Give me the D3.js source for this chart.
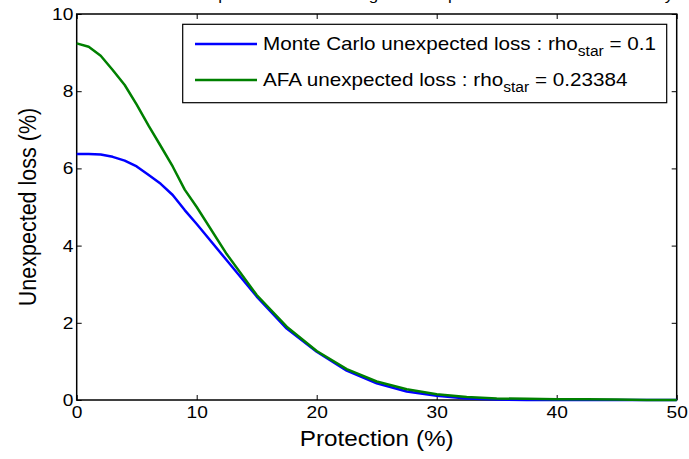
<!DOCTYPE html>
<html><head><meta charset="utf-8">
<script src="https://cdn.jsdelivr.net/npm/d3@7"></script>
<style>body{margin:0;background:#fff}svg{display:block}text{font-family:Arial,"Liberation Sans",sans-serif;fill:#000}</style>
</head><body><svg id="c" width="689" height="459"></svg>
<script>
const protection = [0,1,2,3,4,5,6,7,8,9,10,12.5,15,17.5,20,22.5,25,27.5,30,32.5,35,37.5,40,42.5,45,47.5,50];
const monteCarloUL = [6.37,6.37,6.36,6.3,6.2,6.05,5.83,5.6,5.31,4.92,4.56,3.62,2.68,1.85,1.25,0.76,0.43,0.22,0.11,0.04,0.01,0,0,0,0,0,0];
const afaUL = [9.24,9.15,8.92,8.55,8.16,7.65,7.1,6.58,6.05,5.45,5.0,3.78,2.72,1.9,1.27,0.8,0.48,0.28,0.15,0.08,0.04,0.03,0.02,0.02,0.01,0,0];
const xTicks = [0,10,20,30,40,50];
const yTicks = [0,2,4,6,8,10];
const seriesNames = ["Monte Carlo unexpected loss : rho", "AFA unexpected loss : rho"];
const seriesSub = ["star","star"];
const seriesSuffix = [" = 0.1"," = 0.23384"];
const seriesColors = ["#0000ff","#008000"];
const titleText = "Tranche loss at expiration for an average default percent of the reference entity";

const SX = 1.13; // horizontal stretch of the reference's text
const svg = d3.select("#c");
const L=76.7, R=676.7, T=14, B=400;
const x = d3.scaleLinear().domain([0,50]).range([L,R]);
const y = d3.scaleLinear().domain([0,10]).range([B,T]);

// title (clipped by top of image, as in the reference)
svg.append("text").attr("transform",`translate(${(L+R)/2},-0.5) scale(${SX},1)`).attr("text-anchor","middle")
  .style("font-size","15px").text(titleText);

const tl = 5;
svg.append("g").attr("transform",`translate(0,${B})`)
  .call(d3.axisBottom(x).tickValues(xTicks).tickSizeInner(-tl).tickSizeOuter(0).tickPadding(6))
  .call(g=>{g.select(".domain").remove();g.selectAll("text").style("font-size","17px").attr("font-family",null).attr("transform",`scale(${SX},1)`);});
svg.append("g").attr("transform",`translate(0,${T})`)
  .call(d3.axisTop(x).tickValues(xTicks).tickSizeInner(-tl).tickSizeOuter(0).tickFormat(""))
  .call(g=>g.select(".domain").remove());
svg.append("g").attr("transform",`translate(${L},0)`)
  .call(d3.axisLeft(y).tickValues(yTicks).tickSizeInner(-tl).tickSizeOuter(0).tickPadding(3))
  .call(g=>{g.select(".domain").remove();g.selectAll("text").style("font-size","17px").attr("font-family",null).attr("transform",`scale(${SX},1)`);});
svg.append("g").attr("transform",`translate(${R},0)`)
  .call(d3.axisRight(y).tickValues(yTicks).tickSizeInner(-tl).tickSizeOuter(0).tickFormat(""))
  .call(g=>g.select(".domain").remove());
svg.selectAll(".tick line").attr("stroke","#000");
svg.append("rect").attr("x",L).attr("y",T).attr("width",R-L).attr("height",B-T)
  .attr("fill","none").attr("stroke","#000").attr("stroke-width",1.5);

const line = d3.line().x((d,i)=>x(protection[i])).y(d=>y(d));
[monteCarloUL, afaUL].forEach((s,k)=>{
  svg.append("path").datum(s).attr("d",line).attr("fill","none")
    .attr("stroke",seriesColors[k]).attr("stroke-width",2.5).attr("stroke-linejoin","round");
});

svg.append("text").attr("transform",`translate(${(L+R)/2},446) scale(${SX},1)`).attr("text-anchor","middle")
  .style("font-size","21.5px").text("Protection (%)");
svg.append("text").attr("transform",`translate(36,${(T+B)/2}) scale(${SX},1) rotate(-90)`).attr("text-anchor","middle")
  .style("font-size","21.5px").text("Unexpected loss (%)");

const lg = svg.append("g");
lg.append("rect").attr("x",182.7).attr("y",24.3).attr("width",484).attr("height",78.4)
  .attr("fill","#fff").attr("stroke","#000").attr("stroke-width",1.2);
seriesNames.forEach((n,k)=>{
  const yy = 44 + k*36;
  lg.append("line").attr("x1",195).attr("x2",257).attr("y1",yy).attr("y2",yy)
    .attr("stroke",seriesColors[k]).attr("stroke-width",2.5);
  const t = lg.append("text").attr("transform",`translate(263,${yy+6}) scale(${SX},1)`).style("font-size","18.3px");
  t.append("tspan").text(n);
  t.append("tspan").attr("dy",5.5).style("font-size","13.8px").text(seriesSub[k]);
  t.append("tspan").attr("dy",-5.5).text(seriesSuffix[k]);
});
</script></body></html>
